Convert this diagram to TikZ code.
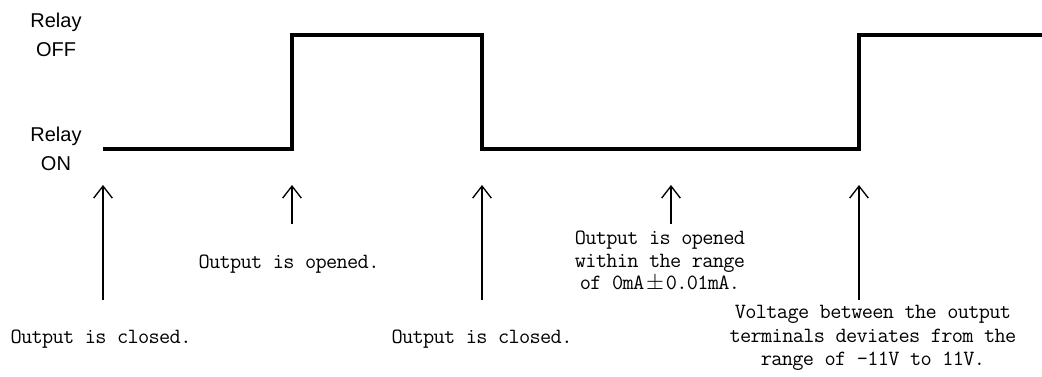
\documentclass[tikz,border=0pt]{standalone}
\usepackage{fontspec}
\newfontfamily\levelfont{Liberation Sans}
\newfontfamily\notefont{Latin Modern Mono}[LetterSpace=-3.1]
\usetikzlibrary{arrows.meta}

\begin{document}
\begin{tikzpicture}[x=0.75pt,y=-0.75pt,
  signal/.style={line width=2.3pt, line join=miter},
  marker/.style={line width=1pt, -{Straight Barb[length=9pt,width=14pt,line width=1pt]}},
  level/.style={font=\levelfont\fontsize{15}{21.75}\selectfont, align=center, inner sep=0pt},
  note/.style={font=\notefont\fontsize{16.3}{16.9}\selectfont, align=center, inner sep=0pt}]
\useasboundingbox (0,0) rectangle (1042,376);

% relay state labels
\node[level] (off) at (56,35) {Relay\\OFF};
\node[level] (on)  at (56,149) {Relay\\ON};

% relay state over time
\draw[signal] (103,149) -- (292,149) -- (292,35) -- (482,35) -- (482,149)
  -- (859,149) -- (859,35) -- (1042,35);

% event markers
\coordinate (h1) at (103,185); \coordinate (b1) at (103,300);
\coordinate (h2) at (292,185); \coordinate (b2) at (292,224);
\coordinate (h3) at (482,185); \coordinate (b3) at (482,300);
\coordinate (h4) at (671,185); \coordinate (b4) at (671,224);
\coordinate (h5) at (859,185); \coordinate (b5) at (859,300);
\foreach \i in {1,...,5} \draw[marker] (b\i) -- (h\i);

% event descriptions
\node[note, anchor=base] (n1) at (101,343) {Output is closed.};
\node[note, anchor=base] (n2) at (289,268) {Output is opened.};
\node[note, anchor=base] (n3) at (482,343) {Output is closed.};
\node[note, anchor=north] (n4) at (660,231)
  {Output is opened\\within the range\\of 0mA\hbox to 16.1pt{\hss$\pm$\hss}0.01mA.};
\node[note, anchor=north, font=\notefont\fontsize{16.3}{17.6}\selectfont] (n5) at (873,305)
  {Voltage between the output\\terminals deviates from the\\range of -11V to 11V.};
\end{tikzpicture}
\end{document}
